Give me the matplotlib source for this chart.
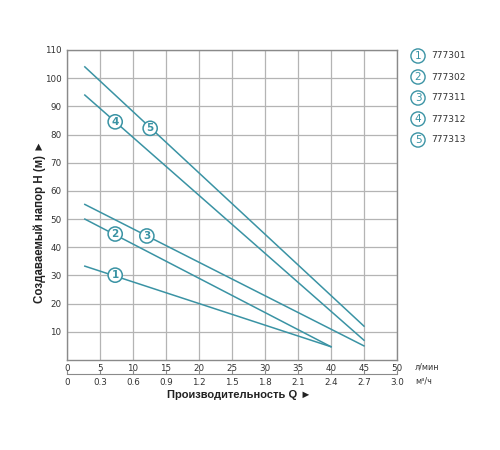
import matplotlib.pyplot as plt
from matplotlib.ticker import FixedLocator

# pump curves: flow (l/min) vs head (m)
q1 = [2.7, 40]
h1 = [33.3, 4.7]
q2 = [2.7, 40]
h2 = [50.0, 4.7]
q3 = [2.7, 45]
h3 = [55.2, 5.0]
q4 = [2.7, 45]
h4 = [94.0, 7.0]
q5 = [2.7, 45]
h5 = [104.0, 12.0]

models = ['777301', '777302', '777311', '777312', '777313']
label_q = [7.3, 7.3, 12.1, 7.3, 12.6]
label_h = [30.1, 44.7, 44.0, 84.5, 82.2]

x_ticks = [0, 5, 10, 15, 20, 25, 30, 35, 40, 45, 50]
y_ticks = [10, 20, 30, 40, 50, 60, 70, 80, 90, 100, 110]
m3h_ticks = [0, 0.3, 0.6, 0.9, 1.2, 1.5, 1.8, 2.1, 2.4, 2.7, 3.0]

teal = '#3a93a4'
grid_c = '#b4b4b4'
spine_c = '#8a8a8a'
txt_c = '#333333'
bold_font = ['Liberation Sans', 'DejaVu Sans']

fig = plt.figure(figsize=(5, 4.5), dpi=100)
ax = fig.add_axes([0.134, 0.2, 0.66, 0.689])

for q, h in [(q1, h1), (q2, h2), (q3, h3), (q4, h4), (q5, h5)]:
    ax.plot(q, h, color=teal, linewidth=1.1, zorder=3)

for i, (x, y) in enumerate(zip(label_q, label_h)):
    ax.text(x, y, str(i + 1), color=teal, fontsize=7.5, fontweight='bold',
            ha='center', va='center', zorder=4,
            bbox=dict(boxstyle='circle,pad=0.2', fc='white', ec=teal, lw=1.1))

ax.set_xlim(0, 50)
ax.set_ylim(0, 110)
ax.set_xticks(x_ticks)
ax.set_yticks(y_ticks)
ax.set_xticklabels([str(t) for t in x_ticks])
ax.set_yticklabels([str(t) for t in y_ticks])
ax.tick_params(axis='both', length=0, labelsize=6.3, labelcolor=txt_c)
ax.tick_params(axis='x', pad=3)
ax.tick_params(axis='y', pad=4)
ax.grid(True, color=grid_c, linewidth=0.9)
ax.set_axisbelow(True)
for s in ax.spines.values():
    s.set_color(spine_c)
    s.set_linewidth(1.0)

# second flow scale in m3/h
sec = ax.secondary_xaxis(-0.045, functions=(lambda x: x * 0.06, lambda x: x / 0.06))
sec.xaxis.set_major_locator(FixedLocator(m3h_ticks))
sec.set_xticklabels(['0', '0.3', '0.6', '0.9', '1.2', '1.5', '1.8', '2.1', '2.4', '2.7', '3.0'])
sec.tick_params(axis='x', direction='in', length=3, color=spine_c, labelsize=6.3,
                labelcolor=txt_c, pad=3)
sec.spines['bottom'].set_color(spine_c)

fig.text(0.83, 1 - 367 / 450, 'л/мин', fontsize=5.8, color=txt_c, va='center')
fig.text(0.83, 1 - 381 / 450, 'м³/ч', fontsize=5.8, color=txt_c, va='center')

fig.text(0.479, 1 - 395 / 450, 'Производительность Q ►', fontsize=8, fontweight='bold',
         family=bold_font, color='#222222', ha='center', va='center')
fig.text(0.08, 1 - 222 / 450, 'Создаваемый напор H (м) ►', fontsize=8.3, fontweight='bold',
         family=bold_font, color='#222222', ha='center', va='center', rotation=90)

# legend on the right
for i, m in enumerate(models):
    y = 1 - (56 + 21 * i) / 450
    fig.text(0.836, y, str(i + 1), color=teal, fontsize=7.5, ha='center', va='center',
             bbox=dict(boxstyle='circle,pad=0.2', fc='white', ec=teal, lw=1.0))
    fig.text(0.862, y, m, color=txt_c, fontsize=6.5, va='center')

plt.savefig('out.png', dpi=100)
